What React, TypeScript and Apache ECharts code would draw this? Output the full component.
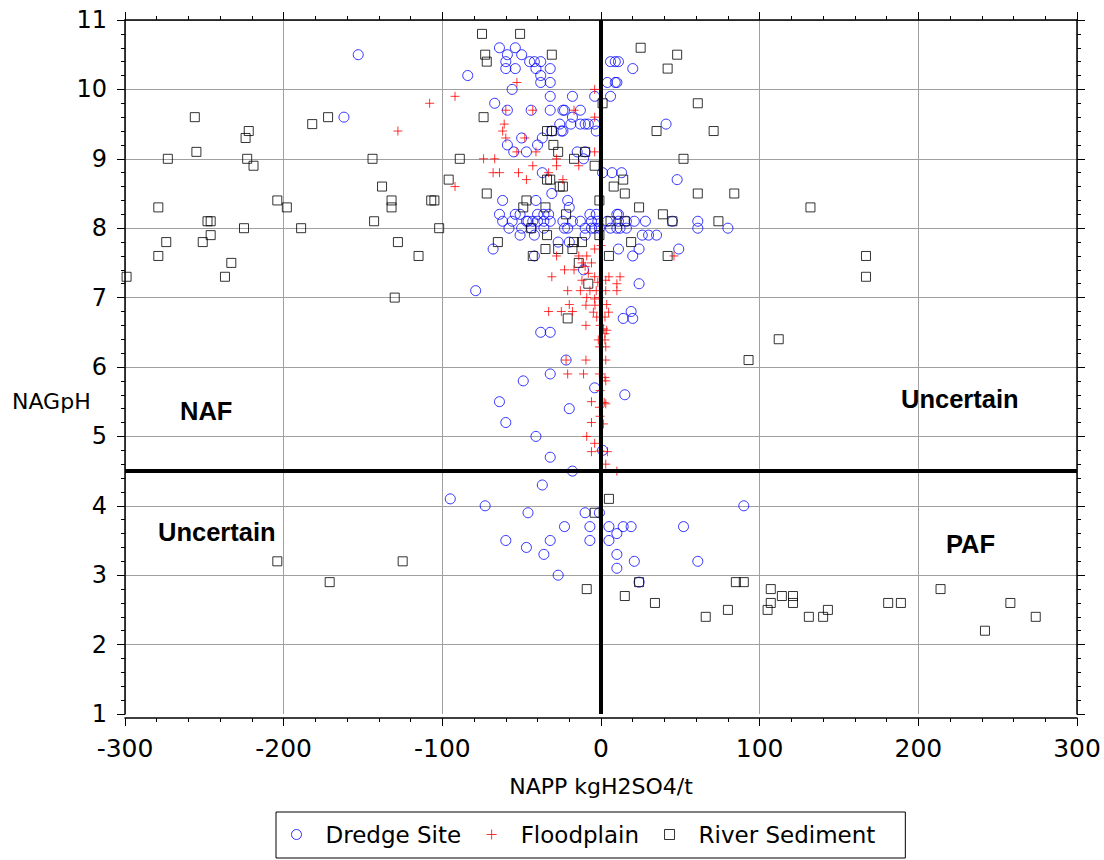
import React, { useEffect, useRef } from "react";
import * as echarts from "echarts";

// NAPP (kg H2SO4/t) vs NAGpH
const dredgeSite: [number, number][] = [
  [-153, 10.5], [-162, 9.6],
  [-84, 10.2], [-64, 10.6], [-59, 10.5], [-54, 10.6], [-50, 10.5], [-60, 10.4], [-60, 10.3], [-54, 10.3],
  [-45, 10.4], [-42, 10.4], [-38, 10.4], [-41, 10.3], [-32, 10.3], [-38, 10.2], [-38, 10.1], [-32, 10.1],
  [6, 10.4], [9, 10.4], [11, 10.4], [20, 10.3], [4, 10.1], [9, 10.1], [10, 10.1],
  [-56, 10.0], [-67, 9.8], [-59, 9.7],
  [-32, 9.9], [-18, 9.9], [-4, 9.9], [6, 9.9],
  [-44, 9.7], [-32, 9.7], [-24, 9.7], [-23, 9.7], [-13, 9.7], [-18, 9.6],
  [-26, 9.5], [-19, 9.5], [-13, 9.5], [-10, 9.5], [-8, 9.5], [-4, 9.5],
  [-31, 9.4], [-25, 9.4], [-24, 9.4], [-3, 9.4], [41, 9.5],
  [-50, 9.3], [-37, 9.3], [-59, 9.2], [-40, 9.2], [-55, 9.1], [-47, 9.1], [-15, 9.1], [-10, 9.1], [-11, 9.0],
  [-37, 8.8], [1, 8.8], [7, 8.8], [13, 8.8], [48, 8.7],
  [-31, 8.5], [-41, 8.4], [-21, 8.4], [-62, 8.4], [-20, 8.3],
  [-64, 8.2], [-62, 8.1], [-56, 8.1], [-54, 8.2], [-51, 8.2], [-47, 8.1], [-58, 8.0], [-51, 7.9], [-68, 7.7],
  [-40, 8.2], [-36, 8.2], [-33, 8.2], [-7, 8.2], [-3, 8.2], [10, 8.2], [11, 8.2],
  [-46, 8.1], [-43, 8.1], [-40, 8.1], [-36, 8.1], [-32, 8.1], [-24, 8.1], [-18, 8.1], [-13, 8.1], [-6, 8.1],
  [-2, 8.1], [4, 8.1], [11, 8.1], [16, 8.1], [21, 8.1], [28, 8.1], [45, 8.1], [61, 8.1], [61, 8.0], [80, 8.0],
  [-50, 8.0], [-44, 8.0], [-36, 8.0], [-23, 8.0], [-21, 8.0], [-10, 8.0], [-6, 8.0], [-4, 8.0], [-1, 8.0],
  [6, 8.0], [10, 8.0], [12, 8.0], [16, 8.0],
  [-42, 7.9], [-27, 7.8], [-20, 7.8], [-10, 7.9], [26, 7.9], [30, 7.9], [35, 7.9], [11, 7.7], [20, 7.6], [49, 7.7],
  [-42, 7.6], [-11, 7.4], [24, 7.7], [24, 7.2], [19, 6.8], [14, 6.7], [20, 6.7],
  [-79, 7.1], [-38, 6.5], [-32, 6.5], [-22, 6.1], [-49, 5.8], [-64, 5.5], [-60, 5.2], [-32, 5.9], [-4, 5.7],
  [15, 5.6], [-20, 5.4], [-41, 5.0], [1, 4.8], [-32, 4.7], [-18, 4.5], [-37, 4.3],
  [-95, 4.1], [-73, 4.0], [-46, 3.9], [-10, 3.9], [-1, 3.9], [-23, 3.7], [-7, 3.7], [-60, 3.5], [-32, 3.5],
  [-7, 3.5], [-47, 3.4], [-36, 3.3], [-27, 3.0],
  [5, 3.7], [14, 3.7], [19, 3.7], [52, 3.7], [10, 3.6], [5, 3.5], [10, 3.3], [21, 3.2], [10, 3.1], [61, 3.2],
  [90, 4.0], [24, 2.9],
];

const floodplain: [number, number][] = [
  [-53, 10.1], [-92, 9.9], [-108, 9.8], [-60, 9.7], [-61, 9.5], [-62, 9.4], [-60, 9.3], [-128, 9.4], [-48, 9.3],
  [-53, 9.1], [-74, 9.0], [-67, 9.0], [-68, 8.8], [-64, 8.8], [-52, 8.8], [-47, 8.7], [-92, 8.6],
  [-4, 10.0], [-43, 9.7], [-17, 9.7], [-4, 9.6], [-41, 9.1], [-28, 9.0], [-4, 9.1], [-43, 8.9], [-28, 8.9],
  [-14, 8.9], [-33, 8.8], [-24, 8.7],
  [-4, 7.7], [0, 7.75], [-28, 7.6], [-14, 7.6], [-9, 7.6], [46, 7.6],
  [-23, 7.4], [-17, 7.4], [-12, 7.5], [-10, 7.45], [-6, 7.5], [-8, 7.35], [-31, 7.3], [5, 7.3], [12, 7.3],
  [-4, 7.3], [-2, 7.22], [3, 7.25], [-12, 7.25], [10, 7.2],
  [-21, 7.1], [-13, 7.1], [-7, 7.1], [-3, 7.1], [3, 7.1], [10, 7.1], [-9, 7.0], [-4, 6.98], [-1, 7.0],
  [-20, 6.9], [-33, 6.8], [-25, 6.8], [-18, 6.8], [-9.5, 6.89], [-3.8, 6.89], [3.6, 6.9], [4.8, 6.79],
  [-4.8, 6.79], [-2.7, 6.72], [2.5, 6.72], [-9.5, 6.6], [-0.6, 6.6], [1.5, 6.55], [3.6, 6.53], [2.5, 6.48],
  [-1.7, 6.39], [2.5, 6.39], [-1, 6.29], [3, 6.29], [-22, 6.1], [-9.5, 6.1], [3, 6.1],
  [-21, 5.9], [-11, 5.9], [-1, 5.9], [2.5, 5.85], [3, 5.8], [-0.6, 5.66], [2, 5.49], [3, 5.47], [-1, 5.42],
  [-6, 5.5], [-0.6, 5.29], [1.5, 5.18], [-6, 5.2], [-9, 5.0], [-4, 4.9], [-6, 4.78], [-0.6, 4.79], [4, 4.78],
  [3, 4.6], [10, 4.5],
];

const riverSediment: [number, number][] = [
  [-256, 9.6], [-255, 9.1], [-273, 9.0], [-279, 8.3], [-279, 7.6], [-274, 7.8], [-299, 7.3], [-248, 8.1],
  [-246, 8.1], [-246, 7.9], [-251, 7.8], [-237, 7.3], [-233, 7.5], [-225, 8.0], [-224, 9.3], [-222, 9.4],
  [-223, 9.0], [-219, 8.9], [-204, 8.4], [-198, 8.3], [-189, 8.0], [-182, 9.5], [-172, 9.6],
  [-144, 9.0], [-138, 8.6], [-132, 8.4], [-132, 8.3], [-143, 8.1], [-128, 7.8], [-115, 7.6], [-130, 7.0],
  [-107, 8.4], [-105, 8.4], [-102, 8.0], [-96, 8.7], [-89, 9.0],
  [-75, 10.8], [-51, 10.8], [-73, 10.5], [-72, 10.4], [-74, 9.6], [-72, 8.5], [-65, 7.8],
  [-31, 10.5], [25, 10.6], [48, 10.5], [42, 10.3], [1, 9.8], [61, 9.8], [71, 9.4], [35, 9.4], [-34, 9.4],
  [-31, 9.4], [-30, 9.2], [-27, 9.1], [-17, 9.0], [-10, 9.1], [-4, 8.9], [52, 9.0],
  [-34, 8.7], [-32, 8.7], [-26, 8.6], [-24, 8.6], [-47, 8.4], [-49, 8.3], [-35, 8.3], [-1, 8.4], [14, 8.7],
  [15, 8.5], [8, 8.6], [61, 8.5], [84, 8.5], [24, 8.3], [39, 8.2], [45, 8.1], [74, 8.1], [132, 8.3],
  [-22, 8.2], [6, 8.1], [15, 8.1], [-44, 8.0],
  [-1, 7.9], [19, 7.8], [42, 7.6], [-17, 7.8], [-12, 7.8], [-34, 7.9], [-35, 7.7], [-27, 7.7], [-18, 7.7],
  [-43, 7.6], [5, 7.6], [-14, 7.5], [-8, 7.2], [-21, 6.7],
  [167, 7.6], [167, 7.3], [112, 6.4], [93, 6.1],
  [-204, 3.2], [-171, 2.9], [-125, 3.2], [-9, 2.8], [-4, 3.9], [5, 4.1], [24, 2.9], [15, 2.7], [34, 2.6],
  [66, 2.4], [80, 2.5], [85, 2.9], [90, 2.9], [107, 2.8], [107, 2.6], [105, 2.5], [114, 2.7], [121, 2.7],
  [121, 2.6], [131, 2.4], [140, 2.4], [143, 2.5], [181, 2.6], [189, 2.6], [214, 2.8], [242, 2.2], [258, 2.6],
  [274, 2.4],
];

const seriesNames = ["Dredge Site", "Floodplain", "River Sediment"];
const xRange = [-300, 300];
const yRange = [1, 11];
const zeroNapp = 0;
const nagPhThreshold = 4.5;
const regionLabels = ["NAF", "Uncertain", "Uncertain", "PAF"];

const crossPath = "path://M0,5L10,5M5,0L5,10";

export default function App() {
  const ref = useRef<HTMLDivElement>(null);
  useEffect(() => {
    if (!ref.current) return;
    const chart = echarts.init(ref.current, null, { renderer: "svg" });
    const font = "DejaVu Sans";
    const labelFont = "bold 25.5px 'Liberation Sans'";
    const gridColor = "#a0a0a0";
    const baseAxis = {
      type: "value",
      interval: 100,
      axisLine: { show: true, onZero: false, lineStyle: { color: "#000", width: 1.5 } },
      axisTick: { show: true, length: 8, lineStyle: { color: "#000", width: 1 } },
      minorTick: { show: true, splitNumber: 5, length: 4, lineStyle: { color: "#000", width: 1 } },
    };
    const regionText = (text: string, x: number, y: number) => ({
      type: "text",
      x,
      y,
      style: { text, font: labelFont, fill: "#000", textVerticalAlign: "middle", verticalAlign: "middle" },
    });
    const option: any = {
      animation: false,
      backgroundColor: "#fff",
      textStyle: { fontFamily: font, color: "#000" },
      grid: { left: 125, top: 20, width: 952, height: 694, containLabel: false },
      xAxis: [
        {
          ...baseAxis,
          min: xRange[0],
          max: xRange[1],
          position: "bottom",
          offset: 4,
          axisLabel: { fontSize: 25, color: "#000", margin: 18, fontFamily: font },
          splitLine: { show: true, lineStyle: { color: gridColor, width: 1 } },
          name: "NAPP kgH2SO4/t",
          nameLocation: "middle",
          nameGap: 57,
          nameTextStyle: { fontSize: 22, color: "#000", fontFamily: font },
        },
        {
          ...baseAxis,
          min: xRange[0],
          max: xRange[1],
          position: "top",
          axisLabel: { show: false },
          splitLine: { show: false },
        },
      ],
      yAxis: [
        {
          ...baseAxis,
          interval: 1,
          min: yRange[0],
          max: yRange[1],
          position: "left",
          axisLabel: { fontSize: 24, color: "#000", margin: 18, fontFamily: font },
          splitLine: { show: true, showMinLine: false, lineStyle: { color: gridColor, width: 1 } },
        },
        {
          ...baseAxis,
          interval: 1,
          min: yRange[0],
          max: yRange[1],
          position: "right",
          axisLabel: { show: false },
          splitLine: { show: false },
        },
      ],
      legend: {
        left: 276,
        top: 812,
        orient: "horizontal",
        borderColor: "#000",
        borderWidth: 1,
        padding: [11, 30, 12, 15],
        itemWidth: 10,
        itemHeight: 10,
        itemGap: 25,
        itemStyle: { borderWidth: 1 },
        textStyle: { fontSize: 23, color: "#000", fontFamily: font, padding: [0, 0, 0, 19] },
        data: [
          { name: seriesNames[0], icon: "circle" },
          { name: seriesNames[1], icon: crossPath },
          { name: seriesNames[2], icon: "rect" },
        ],
      },
      graphic: [
        {
          type: "text",
          left: 12,
          top: 390,
          style: { text: "NAGpH", font: `22px ${font}`, fill: "#000" },
        },
        regionText(regionLabels[0], 180, 411),
        regionText(regionLabels[1], 901, 399),
        regionText(regionLabels[2], 158, 532),
        regionText(regionLabels[3], 946, 544),
      ],
      series: [
        {
          name: seriesNames[0],
          type: "scatter",
          data: dredgeSite,
          symbol: "circle",
          symbolSize: 10,
          itemStyle: { color: "transparent", borderColor: "#0000ff", borderWidth: 1 },
          z: 3,
        },
        {
          name: seriesNames[1],
          type: "scatter",
          data: floodplain,
          symbol: crossPath,
          symbolSize: 9,
          itemStyle: { color: "transparent", borderColor: "#ff0000", borderWidth: 1 },
          z: 4,
        },
        {
          name: seriesNames[2],
          type: "scatter",
          data: riverSediment,
          symbol: "rect",
          symbolSize: 9,
          itemStyle: { color: "transparent", borderColor: "#000", borderWidth: 1 },
          z: 3,
        },
        {
          type: "line",
          data: [[zeroNapp, yRange[0]], [zeroNapp, yRange[1]]],
          symbol: "none",
          silent: true,
          lineStyle: { color: "#000", width: 4 },
          z: 6,
        },
        {
          type: "line",
          data: [[xRange[0], nagPhThreshold], [xRange[1], nagPhThreshold]],
          symbol: "none",
          silent: true,
          lineStyle: { color: "#000", width: 4 },
          z: 6,
        },
      ],
    };
    chart.setOption(option);
    return () => chart.dispose();
  }, []);
  return (
    <div
      ref={ref}
      style={{ position: "fixed", left: 0, top: 0, width: 1104, height: 860, background: "#fff" }}
    />
  );
}
